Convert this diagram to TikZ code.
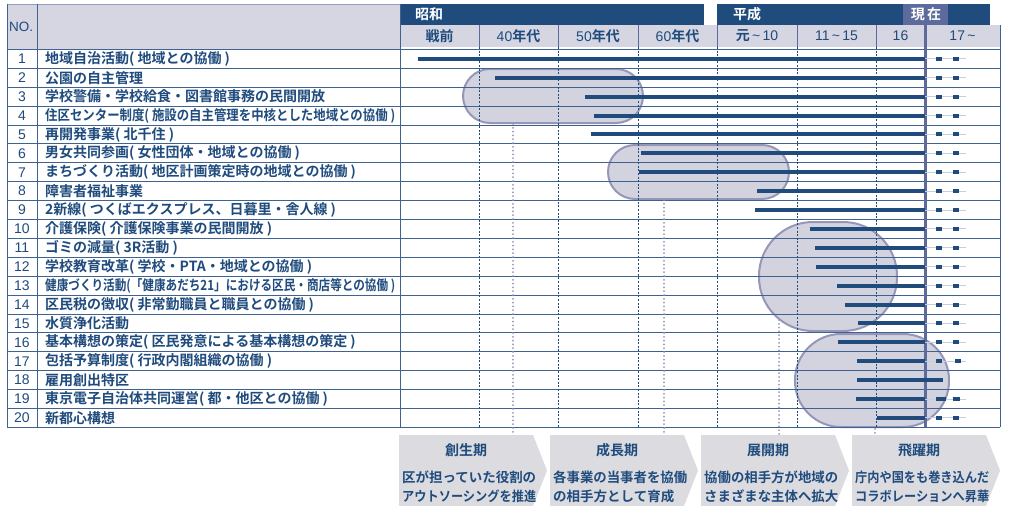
\documentclass[tikz,border=0pt]{standalone}
\usepackage{fontspec}
\usepackage{graphicx}
\setmainfont{Noto Sans CJK JP}[BoldFont={Noto Sans CJK JP Bold}]
\newfontfamily\lat{Liberation Sans}
\definecolor{dblue}{HTML}{1F4B7D}
\definecolor{lav}{HTML}{D5D6E2}
\definecolor{ellf}{HTML}{D3D3E0}
\definecolor{elld}{HTML}{9597B8}
\definecolor{slate}{HTML}{5C6B9C}
\definecolor{gridc}{HTML}{3F6290}
\definecolor{chev}{HTML}{DCDCE0}
\definecolor{lgline}{HTML}{C8CEDC}
\definecolor{frame}{HTML}{8EA0BF}
\newsavebox\fitbox
\newcommand{\fitw}[2]{\sbox\fitbox{#2}\ifdim\wd\fitbox>#1\resizebox{#1}{\height}{\usebox\fitbox}\else\usebox\fitbox\fi}
\begin{document}
\begin{tikzpicture}[x=1pt,y=-1pt,
 rowname/.style={anchor=west, inner sep=0pt, text=dblue, font=\fontsize{14}{16}\selectfont\bfseries},
 rownum/.style={inner sep=0pt, text=dblue, font=\lat\fontsize{14}{16}\selectfont},
 colhead/.style={inner sep=0pt, text=dblue, font=\fontsize{14}{16}\selectfont\bfseries},
 erahead/.style={inner sep=0pt, text=white, font=\fontsize{14}{16}\selectfont\bfseries},
 bar/.style={draw=dblue, line width=4pt},
 minibar/.style={draw=dblue, line width=4pt},
 phase/.style={fill=ellf, draw=elld, line width=2pt},
 dotline/.style={draw=elld, line width=2pt, line cap=round, dash pattern=on 0pt off 3.8pt},
 coldash/.style={draw=dblue, line width=0.8pt, dash pattern=on 2pt off 1.6pt},
 gridline/.style={draw=gridc, line width=1pt},
 chevron/.style={fill=chev},
 chevtitle/.style={inner sep=0pt, text=dblue, font=\fontsize{14}{16}\selectfont\bfseries},
 chevtext/.style={anchor=west, inner sep=0pt, text=dblue, font=\fontsize{13.5}{16}\selectfont\bfseries},
]
\useasboundingbox (0,0) rectangle (1010,506);
\fill[white] (0,0) rectangle (1010,506);
% header fills
\fill[lav] (7,4) rectangle (400,49.4);
\fill[dblue] (400,4) rectangle (704,25);
\fill[dblue] (717,4) rectangle (903,25);
\fill[slate] (903,4) rectangle (948,25);
\fill[dblue] (948,4) rectangle (990,25);
\fill[lav] (400,25) rectangle (1000,47);
\draw[frame, line width=1pt] (7,4) -- (400,4);
% phase shapes
\draw[phase, rounded corners=27pt] (463,69) rectangle (643,123);
\draw[phase, rounded corners=27pt] (608,145) rectangle (789,199);
\draw[phase, rounded corners=54pt] (759,222) rectangle (897,331);
\draw[phase, rounded corners=46pt] (795,334) rectangle (949,427);
% grid
\foreach \k in {0,...,20} {
  \draw[gridline] (7,{49.4+\k*18.9}) -- (1000,{49.4+\k*18.9});
}
\draw[gridline] (7,4) -- (7,427.4);
\draw[gridline] (37,4) -- (37,427.4);
\draw[gridline] (400,4) -- (400,427.4);
\draw[gridline] (1000,25) -- (1000,427.4);
\foreach \x in {479,558,638,717,797,876} {
  \draw[slate, line width=1pt] (\x,25) -- (\x,47);
  \draw[coldash] (\x,47) -- (\x,427.4);
}
\draw[slate, line width=3pt] (925,25) -- (925,427.4);
% bars
\foreach \k/\s/\e in {1/418/925,2/495/925,3/585/925,4/594/925,5/591/925,6/641/925,7/639/925,8/757/925,9/755/925,10/810/925,11/815/925,12/816/925,13/837/925,14/845/925,15/858/925,16/838/925,17/857/925,18/857/943,19/856/925,20/877/925} {
  \draw[bar] (\s,{49.4+(\k-0.5)*18.9}) -- (\e,{49.4+(\k-0.5)*18.9});
}
\foreach \k/\a/\b/\c/\d in {1/936/942/953/959,2/936/942/953/959,3/936/942/953/959,4/936/942/953/959,5/936/942/953/959,6/936/942/953/959,7/936/942/953/959,8/936/942/953/959,9/936/942/953/959,10/936/942/953/959,11/936/942/953/959,12/936/942/953/959,13/936/942/953/959,14/936/942/953/959,15/936/942/953/959,16/936/942/953/959,17/936/942/955/961,19/936/946/953/960,20/936/942/953/959} {
  \draw[lgline, line width=1pt] (925,{49.4+(\k-0.5)*18.9}) -- (966,{49.4+(\k-0.5)*18.9});
  \draw[minibar] (\a,{49.4+(\k-0.5)*18.9}) -- (\b,{49.4+(\k-0.5)*18.9});
  \draw[minibar] (\c,{49.4+(\k-0.5)*18.9}) -- (\d,{49.4+(\k-0.5)*18.9});
}
% header texts
\node[anchor=west, inner sep=0pt, text=dblue, font=\lat\fontsize{13.5}{15}\selectfont] (hno) at (9,27) {NO.};
\node[erahead, anchor=west] (showa) at (415,14.5) {昭和};
\node[erahead, anchor=west] (heisei) at (733,14.5) {平成};
\node[erahead] (genzai) at (926,14.5) {現\,在};
\node[colhead] (c1) at (439.5,36) {戦前};
\node[colhead] (c2) at (518.5,36) {{\lat\mdseries 40}年代};
\node[colhead] (c3) at (598,36) {{\lat\mdseries 50}年代};
\node[colhead] (c4) at (677.5,36) {{\lat\mdseries 60}年代};
\node[colhead] (c5) at (757,36) {元{\lat\mdseries\,\textasciitilde\,10}};
\node[colhead] (c6) at (836.5,36) {{\lat\mdseries 11\,\textasciitilde\,15}};
\node[colhead] (c7) at (900.5,36) {{\lat\mdseries 16}};
\node[colhead] (c8) at (962.5,36) {{\lat\mdseries 17\,\textasciitilde}};
% rows
\foreach \k/\nm in {1/{地域自治活動( 地域との協働 )},2/{公園の自主管理},3/{学校警備・学校給食・図書館事務の民間開放},4/{住区センター制度( 施設の自主管理を中核とした地域との協働 )},5/{再開発事業( 北千住 )},6/{男女共同参画( 女性団体・地域との協働 )},7/{まちづくり活動( 地区計画策定時の地域との協働 )},8/{障害者福祉事業},9/{2新線( つくばエクスプレス、日暮里・舎人線 )},10/{介護保険( 介護保険事業の民間開放 )},11/{ゴミの減量( 3R活動 )},12/{学校教育改革( 学校・PTA・地域との協働 )},13/{健康づくり活動(「健康あだち21」における区民・商店等との協働 )},14/{区民税の徴収( 非常勤職員と職員との協働 )},15/{水質浄化活動},16/{基本構想の策定( 区民発意による基本構想の策定 )},17/{包括予算制度( 行政内閣組織の協働 )},18/{雇用創出特区},19/{東京電子自治体共同運営( 都・他区との協働 )},20/{新都心構想}} {
  \node[rownum] (num\k) at (22,{49.4+(\k-0.5)*18.9}) {\k};
  \node[rowname] (name\k) at (45,{49.4+(\k-0.5)*18.9}) {\fitw{350pt}{\nm}};
}
% dotted leaders
\coordinate (d1a) at (513,124); \coordinate (d1b) at (513,434);
\coordinate (d2a) at (664,200); \coordinate (d2b) at (664,434);
\coordinate (d3a) at (779,320); \coordinate (d3b) at (779,434);
\coordinate (d4a) at (875,429); \coordinate (d4b) at (875,434);
\draw[dotline] (d1a) -- (d1b);
\draw[dotline] (d2a) -- (d2b);
\draw[dotline] (d3a) -- (d3b);
\draw[dotline] (d4a) -- (d4b);
% chevrons
\foreach \i/\t/\la/\lb in {0/創生期/区が担っていた役割の/アウトソーシングを推進,1/成長期/各事業の当事者を協働/の相手方として育成,2/展開期/協働の相手方が地域の/さまざまな主体へ拡大,3/飛躍期/庁内や国をも巻き込んだ/コラボレーションへ昇華} {
  \pgfmathsetmacro{\L}{399+151*\i}
  \fill[chevron] (\L,435) -- (\L+134,435) -- (\L+148,470.5) -- (\L+134,506) -- (\L,506) -- cycle;
  \node[chevtitle] (pt\i) at (\L+67,450) {\t};
  \node[chevtext] (pa\i) at (\L+3,477.5) {\fitw{134pt}{\la}};
  \node[chevtext] (pb\i) at (\L+3,496) {\fitw{134pt}{\lb}};
}
\end{tikzpicture}
\end{document}
